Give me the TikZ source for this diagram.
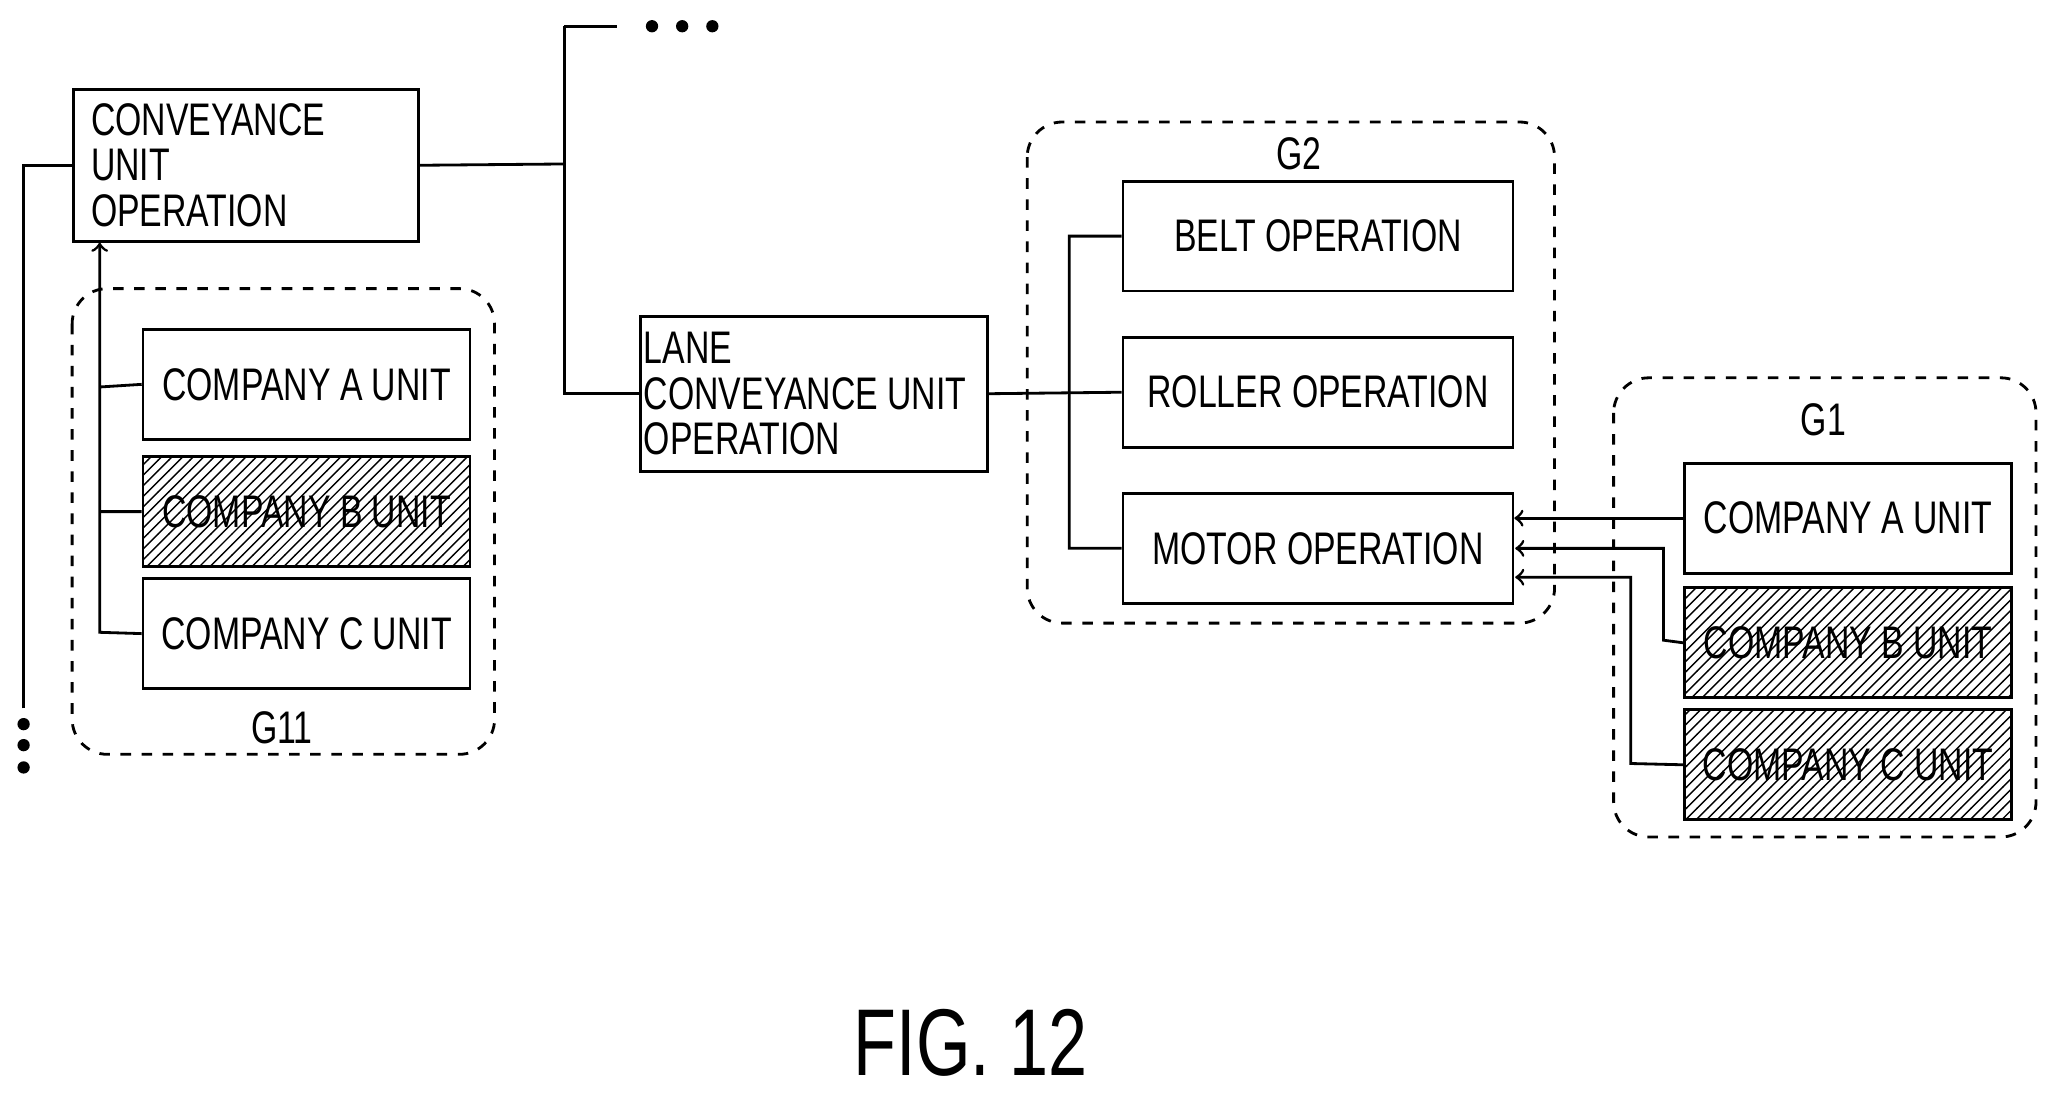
\documentclass[tikz,border=0pt]{standalone}
\usepackage{fontspec}
\setmainfont{Liberation Sans}[FakeStretch=0.74]
\usetikzlibrary{positioning,patterns,arrows}
\tikzstyle{op}=[draw, thick, minimum height=1.1cm, minimum width=3.9cm, font=\fontsize{13}{13}\selectfont]
\tikzstyle{unit}=[draw, thick, minimum height=1.1cm, minimum width=3.27cm, font=\fontsize{13}{13}\selectfont]
\tikzstyle{hatch}=[pattern=north east lines]
\tikzstyle{grp}=[draw, dashed, rounded corners=10pt]
\tikzstyle{lbl}=[font=\fontsize{13}{13}\selectfont]
\tikzstyle{dot}=[circle, fill, inner sep=0pt, minimum size=3.5pt]
\begin{document}
\begin{tikzpicture}[x=0.01312cm,y=-0.01312cm,thick]
\useasboundingbox (0,0) rectangle (1568,833);
% groups
\draw[grp] (55,220) rectangle (377,575);
\draw[grp] (783,93) rectangle (1185,475);
\draw[grp] (1230,288) rectangle (1552,638);
\node[lbl] (g11) at (215,555) {G11};
\node[lbl] (g2) at (990,117) {G2};
\node[lbl] (g1) at (1390,320) {G1};
% top level
\node[op, minimum width=3.45cm, minimum height=1.52cm, text width=3.1cm, align=flush left, anchor=north west] (conv) at (55,67) {CONVEYANCE\\UNIT\\OPERATION};
\node[op, minimum width=3.45cm, minimum height=1.55cm, text width=3.4cm, align=flush left, anchor=north west, inner sep=1pt] (lane) at (487,240) {LANE\\CONVEYANCE UNIT\\OPERATION};
% G2
\node[op, anchor=north west] (belt) at (855,137) {BELT OPERATION};
\node[op, anchor=north west] (roller) at (855,256) {ROLLER OPERATION};
\node[op, anchor=north west] (motor) at (855,375) {MOTOR OPERATION};
% G11
\node[unit, anchor=north west] (lA) at (108,250) {COMPANY A UNIT};
\node[unit, hatch, anchor=north west] (lB) at (108,347) {COMPANY B UNIT};
\node[unit, anchor=north west] (lC) at (108,440) {COMPANY C UNIT};
% G1
\node[unit, anchor=north west] (rA) at (1283,352) {COMPANY A UNIT};
\node[unit, hatch, anchor=north west] (rB) at (1283,447) {COMPANY B UNIT};
\node[unit, hatch, anchor=north west] (rC) at (1283,540) {COMPANY C UNIT};
% tree lines
\coordinate (top) at (430,20);
\draw (18,540) |- (conv.west);
\foreach \y in {552,568,585} \node[dot] at (18,\y) {};
\draw (conv.east) -- (430,125);
\draw (top) |- (lane.west);
\draw (top) -- (470,20);
\foreach \x in {497,520,543} \node[dot] at (\x,20) {};
\draw (lane.east) -- (roller.west);
\draw (belt.west) -- (815,180) |- (motor.west);
% unit links
\draw[->] (lC.west) -- (76,482) -- (76,185);
\draw (lA.west) -- (76,295);
\draw (lB.west) -- (76,390);
\draw[->] (rA.west) -- (motor.east |- rA.west);
\draw[->] (rB.west) -- (1268,488) |- (1155,418);
\draw[->] (rC.west) -- (1243,582) |- (1155,440);
\node[font=\fontsize{27}{27}\selectfont] (fig) at (740,795) {FIG. 12};
\end{tikzpicture}
\end{document}
